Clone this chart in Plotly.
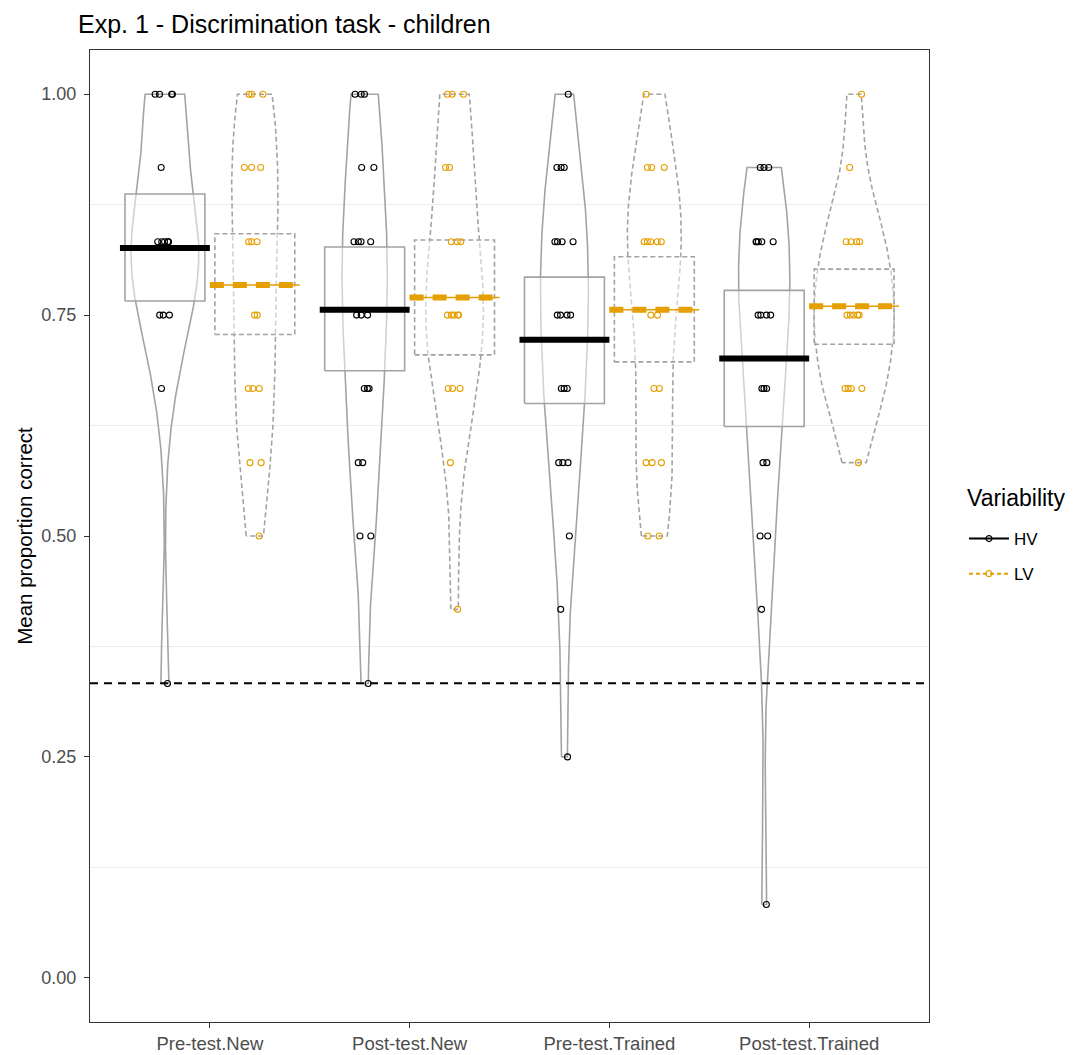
import numpy as np
import plotly.graph_objects as go

# ---------------- data ----------------
categories = ["Pre-test.New", "Post-test.New", "Pre-test.Trained", "Post-test.Trained"]
variability = ["HV", "LV"]

# individual mean proportions correct (read from the jittered points / bean shapes)
hv_pre_new = [1.0, 1.0, 1.0, 1.0, 0.917, 0.833, 0.833, 0.833, 0.833, 0.833, 0.833,
              0.75, 0.75, 0.75, 0.667, 0.333]
hv_post_new = [1.0, 1.0, 1.0, 0.917, 0.917, 0.833, 0.833, 0.833, 0.833,
               0.75, 0.75, 0.75, 0.667, 0.667, 0.667, 0.583, 0.583, 0.5, 0.5, 0.333]
hv_pre_trained = [1.0, 0.917, 0.917, 0.917, 0.833, 0.833, 0.833, 0.833,
                  0.75, 0.75, 0.75, 0.75, 0.667, 0.667, 0.667, 0.583, 0.583, 0.583,
                  0.5, 0.417, 0.25]
hv_post_trained = [0.917, 0.917, 0.917, 0.833, 0.833, 0.833, 0.833, 0.833,
                   0.75, 0.75, 0.75, 0.75, 0.667, 0.667, 0.667, 0.583, 0.583, 0.5, 0.5,
                   0.417, 0.083]

lv_pre_new = [1.0, 1.0, 1.0, 0.917, 0.917, 0.917, 0.833, 0.833, 0.833, 0.75, 0.75,
              0.667, 0.667, 0.667, 0.583, 0.583, 0.5]
lv_post_new = [1.0, 1.0, 1.0, 0.917, 0.917, 0.833, 0.833, 0.833, 0.75, 0.75, 0.75,
               0.75, 0.75, 0.667, 0.667, 0.667, 0.583, 0.417]
lv_pre_trained = [1.0, 0.917, 0.917, 0.917, 0.833, 0.833, 0.833, 0.833, 0.833,
                  0.75, 0.75, 0.667, 0.667, 0.583, 0.583, 0.583, 0.5, 0.5]
lv_post_trained = [1.0, 0.917, 0.833, 0.833, 0.833, 0.833, 0.75, 0.75, 0.75, 0.75, 0.75,
                   0.667, 0.667, 0.667, 0.667, 0.583]

# means and 95% CI (boxes)
hv_mean = [0.826, 0.756, 0.722, 0.701]
hv_ci_low = [0.766, 0.687, 0.650, 0.624]
hv_ci_high = [0.887, 0.827, 0.793, 0.778]
lv_mean = [0.784, 0.770, 0.756, 0.760]
lv_ci_low = [0.728, 0.705, 0.697, 0.717]
lv_ci_high = [0.842, 0.835, 0.816, 0.802]

chance_level = 1 / 3
y_ticks = [0.0, 0.25, 0.5, 0.75, 1.0]

# ---------------- styles ----------------
FONT = "Liberation Sans, Arial, sans-serif"
GRAY = "#A3A3A3"
ORANGE = "#E69F00"
DODGE = 0.225
BOX_HALF = 0.2
MEAN_HALF = 0.225
VIOLIN_HALF = 0.2
XR = [0.4, 4.6]
YR = [-0.05, 1.05]

series = {
    "HV": dict(points=[hv_pre_new, hv_post_new, hv_pre_trained, hv_post_trained],
               mean=hv_mean, lo=hv_ci_low, hi=hv_ci_high, off=-DODGE,
               color="black", dash="solid"),
    "LV": dict(points=[lv_pre_new, lv_post_new, lv_pre_trained, lv_post_trained],
               mean=lv_mean, lo=lv_ci_low, hi=lv_ci_high, off=DODGE,
               color=ORANGE, dash="5px,3px"),
}


def nrd0(x):
    x = np.asarray(x, float)
    sd = np.std(x, ddof=1)
    q75, q25 = np.percentile(x, [75, 25])
    lo = min(sd, (q75 - q25) / 1.34)
    if lo == 0:
        lo = sd if sd > 0 else 1.0
    return 0.9 * lo * len(x) ** -0.2


def kde(x):
    x = np.asarray(x, float)
    bw = nrd0(x)
    grid = np.linspace(x.min(), x.max(), 512)
    d = np.exp(-0.5 * ((grid[:, None] - x[None, :]) / bw) ** 2).sum(1)
    d /= len(x) * bw * np.sqrt(2 * np.pi)
    return grid, d


dens = {}
for g, s in series.items():
    for i, pts in enumerate(s["points"]):
        dens[(g, i)] = kde(pts)
gmax = max(d.max() for _, d in dens.values())

fig = go.Figure()

# violins (beans)
for g, s in series.items():
    for i in range(len(categories)):
        c = i + 1 + s["off"]
        grid, d = dens[(g, i)]
        hw = VIOLIN_HALF * d / gmax
        xs = np.concatenate([c - hw, (c + hw)[::-1], [c - hw[0]]])
        ys = np.concatenate([grid, grid[::-1], [grid[0]]])
        fig.add_trace(go.Scatter(x=xs, y=ys, mode="lines", showlegend=False, hoverinfo="skip",
                                 line=dict(color=GRAY, width=1.6, dash=s["dash"])))

# CI boxes
for g, s in series.items():
    for i in range(len(categories)):
        c = i + 1 + s["off"]
        lo, hi = s["lo"][i], s["hi"][i]
        fig.add_trace(go.Scatter(
            x=[c - BOX_HALF, c + BOX_HALF, c + BOX_HALF, c - BOX_HALF, c - BOX_HALF],
            y=[lo, lo, hi, hi, lo], mode="lines", fill="toself",
            fillcolor="rgba(255,255,255,0.5)", showlegend=False, hoverinfo="skip",
            line=dict(color=GRAY, width=1.6, dash=s["dash"])))

# mean lines
for g, s in series.items():
    for i in range(len(categories)):
        c = i + 1 + s["off"]
        m = s["mean"][i]
        if g == "HV":
            fig.add_trace(go.Scatter(x=[c - MEAN_HALF, c + MEAN_HALF], y=[m, m], mode="lines",
                                     showlegend=False, hoverinfo="skip",
                                     line=dict(color="black", width=6)))
        else:
            fig.add_trace(go.Scatter(x=[c - MEAN_HALF, c + MEAN_HALF], y=[m, m], mode="lines",
                                     showlegend=False, hoverinfo="skip",
                                     line=dict(color=ORANGE, width=1.5)))
            fig.add_trace(go.Scatter(x=[c - MEAN_HALF, c + MEAN_HALF], y=[m, m], mode="lines",
                                     showlegend=False, hoverinfo="skip",
                                     line=dict(color=ORANGE, width=6, dash="14px,9px")))

# jittered points (on an overlaid axis so they sit on top of everything)
for g, s in series.items():
    for i, pts in enumerate(s["points"]):
        c = i + 1 + s["off"]
        fig.add_trace(go.Box(
            x=[c] * len(pts), y=pts, width=0.2, boxpoints="all", jitter=0.6, pointpos=0,
            xaxis="x2", yaxis="y2",
            fillcolor="rgba(0,0,0,0)", line=dict(color="rgba(0,0,0,0)", width=0),
            whiskerwidth=0, showlegend=False, hoverinfo="skip",
            marker=dict(symbol="circle-open", size=6, color=s["color"],
                        line=dict(width=1.1, color=s["color"]))))

# legend entries
for g, s in series.items():
    fig.add_trace(go.Scatter(
        x=[None], y=[None], mode="lines+markers", name=g, legendgroup=g,
        line=dict(color=s["color"], width=2, dash="solid" if g == "HV" else "4px,3px"),
        marker=dict(symbol="circle-open", size=6, color=s["color"],
                    line=dict(width=1.2, color=s["color"]))))

fig.add_shape(type="line", xref="paper", x0=0, x1=1, yref="y", y0=chance_level, y1=chance_level,
              line=dict(color="black", width=1.8, dash="8px,6px"), layer="above")

fig.add_annotation(text="Variability", xref="paper", yref="paper",
                   x=(965 - 90) / 839, y=1 - (498 - 50) / 972, xanchor="left", yanchor="middle",
                   showarrow=False, font=dict(size=23, color="black"))

axis_common = dict(ticks="outside", ticklen=5, tickcolor="#333333", showline=True, mirror=True,
                   linecolor="#333333", linewidth=1, showgrid=False, zeroline=False,
                   automargin=False)

fig.update_layout(
    width=1074, height=1055, autosize=False,
    margin=dict(l=90, r=145, t=50, b=33),
    paper_bgcolor="white", plot_bgcolor="white",
    font=dict(family=FONT, color="black"),
    boxmode="overlay",
    title=dict(text="Exp. 1 - Discrimination task - children", font=dict(size=25, color="black"),
               xref="container", x=78 / 1074, xanchor="left",
               yref="container", y=1 - 24 / 1055, yanchor="middle"),
    legend=dict(font=dict(size=17), x=(964 - 90) / 839, xanchor="left",
                y=1 - (521 - 50) / 972, yanchor="top", bgcolor="rgba(0,0,0,0)",
                itemwidth=40, tracegroupgap=10),
    xaxis=dict(range=XR, tickmode="array", tickvals=[1, 2, 3, 4], ticktext=categories,
               tickfont=dict(size=18.5, color="#4D4D4D"), **axis_common),
    yaxis=dict(range=YR, tickmode="array", tickvals=y_ticks, tickformat=".2f",
               tickfont=dict(size=18, color="#4D4D4D"), ticklabelstandoff=4,
               minor=dict(tickmode="linear", tick0=0.125, dtick=0.25, showgrid=True,
                          gridcolor="#EDEDED", gridwidth=1, ticks=""),
               title=dict(text="Mean proportion correct", font=dict(size=20.5), standoff=3),
               **axis_common),
    xaxis2=dict(range=XR, overlaying="x", visible=False),
    yaxis2=dict(range=YR, overlaying="y", visible=False),
)

fig.write_html("out.html")
